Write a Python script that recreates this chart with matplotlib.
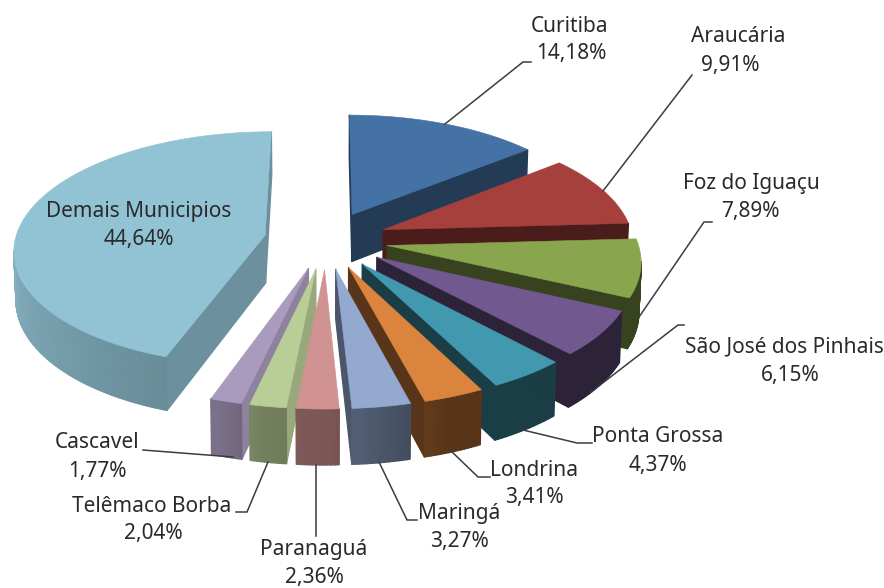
import numpy as np
import matplotlib
matplotlib.use("Agg")
import matplotlib.pyplot as plt
from matplotlib.patches import Polygon

# ---- data
municipios = ["Curitiba", "Araucária", "Foz do Iguaçu", "São José dos Pinhais", "Ponta Grossa",
              "Londrina", "Maringá", "Paranaguá", "Telêmaco Borba", "Cascavel", "Demais Municipios"]
valores = [14.18, 9.91, 7.89, 6.15, 4.37, 3.41, 3.27, 2.36, 2.04, 1.77, 44.64]
rotulos = ["14,18%", "9,91%", "7,89%", "6,15%", "4,37%", "3,41%", "3,27%", "2,36%", "2,04%", "1,77%", "44,64%"]

# ---- style
topo = ["#4472A4", "#A5403D", "#89A54E", "#71588F", "#4198AF", "#DB843D",
        "#93A9CF", "#D19392", "#B9CD96", "#A99BBD", "#92C3D4"]
luz_theta = [0, 100, 160, 166, 178, 190, 197, 200, 270, 360]
luz_fator = [.56, .40, .40, .46, .58, .62, .72, .72, .92, .92]
radial_fator = {8: .82, 9: .84, 10: .74}
name_pos = [(570, 26), (738, 37), (751, 183), (784, 347), (658, 437), (534, 471),
            (459, 513), (314, 550), (152, 506), (97, 443), (139, 211)]
pct_pos = [(571, 54), (730, 65), (750, 211), (790, 375), (658, 465), (534, 498),
           (459, 541), (314, 577), (153, 534), (97, 471), (139, 240)]
leaders = [[(445, 124), (523, 62), (531, 62)],
           [(603, 191), (692, 75)],
           [(637, 320), (704, 222), (712, 222)],
           [(591, 392), (678, 325), (684, 325)],
           [(523, 430), (577, 443), (592, 443)],
           [(450, 450), (478, 477), (490, 477)],
           [(379, 462), (407, 520), (417, 520)],
           [(316, 465), (316, 536)],
           [(268, 462), (247, 512), (236, 512)],
           [(143, 450), (233, 457)]]
CX, CY = 326, 240
R, EXPLODE, DEPTH = 250, 62, 48
PERSP, TILT = 2200, 0.465
SHRINK = 0.993


def project(X, Y):
    s = 1 / (1 - np.asarray(Y, float) / PERSP)
    return CX + np.asarray(X, float) * s, CY + TILT * np.asarray(Y, float) * s, s


def rgb(c, f=1.0):
    return tuple(min(1, v * f) for v in matplotlib.colors.to_rgb(c))


fig = plt.figure(figsize=(8.84, 5.88), dpi=100)
ax = fig.add_axes([0, 0, 1, 1])
ax.set_xlim(0, 884)
ax.set_ylim(588, 0)
ax.axis("off")

total = sum(valores)
edges = np.r_[0, np.cumsum(valores)] / total * 360
mids = (edges[:-1] + edges[1:]) / 2
order = np.argsort(-np.abs(mids - 180))

for i in order:
    a0, a1, m = edges[i], edges[i + 1], np.radians(mids[i])
    ox, oy = EXPLODE * np.sin(m), -EXPLODE * np.cos(m)
    th = np.radians(np.linspace(a0, a1, max(4, int((a1 - a0) * 1.5))))
    X = np.r_[ox, ox + R * np.sin(th)]
    Y = np.r_[oy, oy - R * np.cos(th)]
    x, y, s = project(X, Y)
    xb = CX + (x - CX) * SHRINK
    yb = y + DEPTH * s
    cxp, cyp = x.mean(), y.mean()
    n = len(x)
    faces = []
    for j in range(n):
        k = (j + 1) % n
        ex, ey = x[k] - x[j], y[k] - y[j]
        side_in = ex * (cyp - y[j]) - ey * (cxp - x[j])
        if side_in * ex >= 0:      # face turned away from the viewer
            continue
        radial = j == 0 or k == 0
        if radial:
            f = radial_fator.get(i, None)
            f = f if f is not None else np.interp(mids[i], luz_theta, luz_fator)
        else:
            f = np.interp(np.degrees(th[j - 1]), luz_theta, luz_fator)
        faces.append((radial, f, j, k))
    for radial, f, j, k in sorted(faces, key=lambda t: not t[0]):
        col = rgb(topo[i], f)
        ax.add_patch(Polygon([(x[j], y[j]), (x[k], y[k]), (xb[k], yb[k]), (xb[j], yb[j])],
                             closed=True, fc=col, ec=col, lw=1.0, joinstyle="round"))
    ax.add_patch(Polygon(np.c_[x, y], closed=True, fc=topo[i], ec=topo[i], lw=0.4))

for pts in leaders:
    p = np.array(pts)
    ax.plot(p[:, 0], p[:, 1], color="#3c3c3c", lw=1.1, solid_joinstyle="miter")

FONT = dict(family="Noto Sans", fontsize=15, color="#2a2a2a", ha="center", va="center")
for nome, pct, pn, pp in zip(municipios, rotulos, name_pos, pct_pos):
    ax.text(pn[0], pn[1], nome, **FONT)
    ax.text(pp[0], pp[1], pct, **FONT)

fig.savefig("out.png", dpi=100, facecolor="white")
